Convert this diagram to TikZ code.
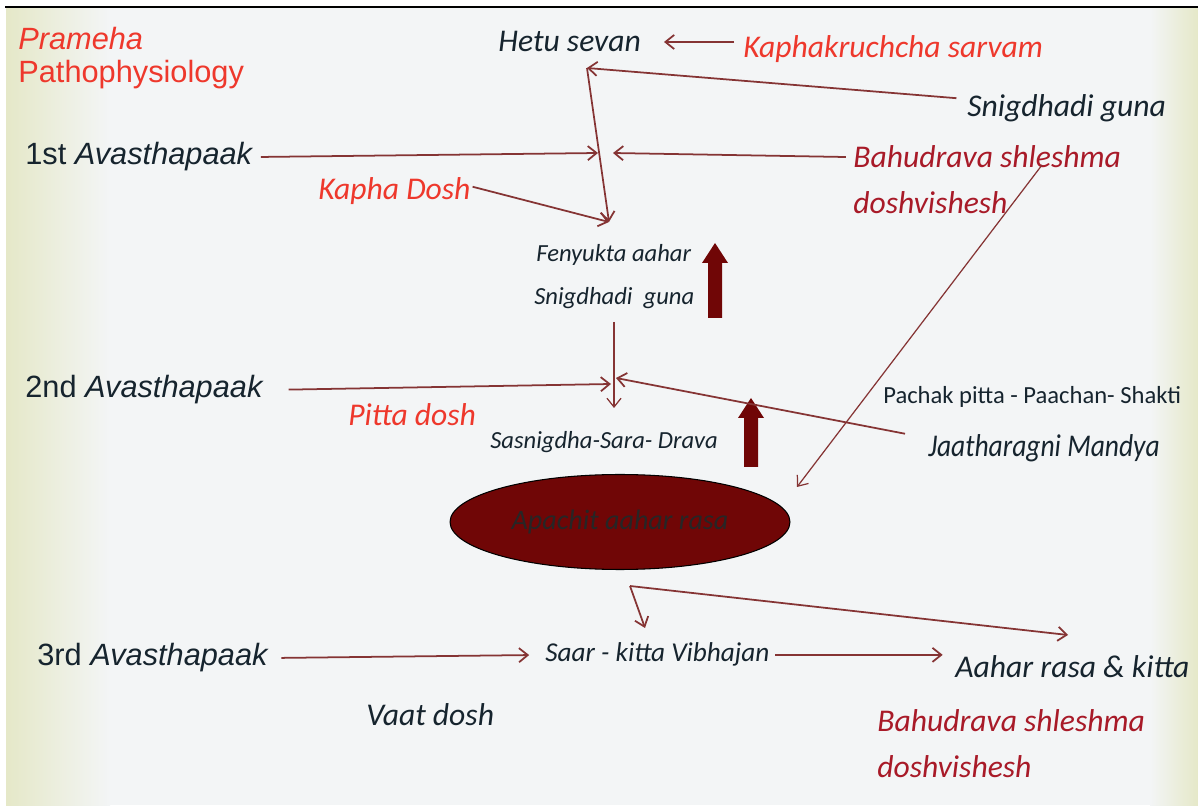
\documentclass[tikz,border=0pt]{standalone}
\usepackage{fontspec}
\setmainfont{Carlito}
\newfontfamily\pmsans{Liberation Sans}
\usetikzlibrary{arrows.meta,shapes.geometric}
\definecolor{pmred}{RGB}{238,56,44}
\definecolor{pmwine}{RGB}{168,26,40}
\definecolor{pmink}{RGB}{22,36,46}
\definecolor{pmline}{RGB}{133,52,52}
\definecolor{pmblood}{RGB}{112,6,6}
\definecolor{pmpaper}{RGB}{243,245,246}
\definecolor{pmcream}{RGB}{229,232,200}

\tikzset{
  conn/.style={pmline, line width=1pt, -{Straight Barb[length=5pt,width=8pt]}},
  thinconn/.style={conn, line width=0.7pt},
  pmbig/.style={anchor=base west, inner sep=0pt, text=pmink,
    font=\itshape\fontsize{18}{20}\selectfont},
  pmsmall/.style={pmbig, font=\itshape\fontsize{14}{16}\selectfont},
  pmstage/.style={anchor=base west, inner sep=0pt, text=pmink,
    font=\pmsans\fontsize{17.5}{19}\selectfont},
}

\begin{document}
\begin{tikzpicture}[x=0.02cm, y=-0.02cm]
    \useasboundingbox (0,0) rectangle (1198,807);
    \fill[pmpaper] (6,8) rectangle (1198,805);
    \shade[left color=pmcream, right color=pmpaper] (6,8) rectangle (110,805);
    \shade[left color=pmpaper, right color=pmcream] (1150,8) rectangle (1198,805);
    \draw[black, line width=1.2pt] (5,7) -- (1198,7);

    \node[pmstage, text=pmred, font=\pmsans\itshape\fontsize{17.5}{19}\selectfont] (title1) at (18,50) {Prameha};
    \node[pmstage, text=pmred] (title2) at (18,83) {Pathophysiology};

    \node[pmbig] (hetu) at (498,52) {Hetu sevan};
    \node[pmbig, text=pmred] (kaph) at (743,58) {Kaphakruchcha sarvam};
    \node[pmbig] (sguna) at (967,117) {Snigdhadi guna};
    \node[pmstage] (av1) at (25,165) {1st \textit{Avasthapaak}};
    \node[pmbig, text=pmwine] (bahu1) at (853,168) {Bahudrava shleshma};
    \node[pmbig, text=pmwine] (bahu1b) at (853,214) {doshvishesh};
    \node[pmbig, text=pmred] (kapha) at (318,200) {Kapha Dosh};
    \node[pmsmall] (fen1) at (536,262) {Fenyukta aahar};
    \node[pmsmall] (fen2) at (534,305) {Snigdhadi\ \ guna};
    \node[pmstage] (av2) at (25,398) {2nd \textit{Avasthapaak}};
    \node[pmbig, text=pmred] (pitta) at (348,426) {Pitta dosh};
    \node[pmsmall] (sas) at (490,449) {Sasnigdha-Sara- Drava};
    \node[pmsmall, font=\fontsize{14}{16}\selectfont] (pachak) at (883,404) {Pachak pitta - Paachan- Shakti};
    \node[pmbig, xscale=0.87] (jaath) at (928,457) {Jaatharagni Mandya};
    \node[ellipse, draw=black, line width=0.6pt, fill=pmblood, minimum width=6.8cm,
      minimum height=1.9cm, inner sep=0pt, text=black!85,
      font=\itshape\fontsize{16}{18}\selectfont] (rasa) at (620,522) {Apachit aahar rasa};
    \node[pmstage] (av3) at (37,666) {3rd \textit{Avasthapaak}};
    \node[pmsmall, font=\itshape\fontsize{15.5}{17}\selectfont] (saar) at (545,662) {Saar - kitta Vibhajan};
    \node[pmbig] (aahar) at (955,678) {Aahar rasa \& kitta};
    \node[pmbig] (vaat) at (366,725) {Vaat dosh};
    \node[pmbig, text=pmwine] (bahu2) at (877,731) {Bahudrava shleshma};
    \node[pmbig, text=pmwine] (bahu2b) at (877,778) {doshvishesh};

    \fill[pmblood] (708,318) -- (708,263) -- (702,263) -- (715,243) -- (728,263)
      -- (722,263) -- (722,318) -- cycle;
    \fill[pmblood] (744,467) -- (744,418) -- (738,418) -- (751,398) -- (764,418)
      -- (758,418) -- (758,467) -- cycle;

    \coordinate (jtop) at (587,68);
    \coordinate (jfen) at (609,222);
    \coordinate (j1l) at (598,153);
    \coordinate (j1r) at (613,153);
    \coordinate (bahus) at (1042,165);
    \coordinate (j2top) at (614,322);
    \coordinate (j2bot) at (614,408);
    \coordinate (j2l) at (611,384);
    \coordinate (j2r) at (616,378);
    \coordinate (rasane) at (797,487);
    \coordinate (jsplit) at (630,586);
    \coordinate (jsaar) at (645,628);
    \coordinate (jaahar) at (1068,635);

    \draw[conn, shorten <=5pt, shorten >=13pt] (kaph.west |- hetu.east) -- (hetu.east);
    \draw[conn] ([xshift=-6pt, yshift=-2pt]sguna.north west) -- (jtop);
    \draw[conn] (jtop) -- (jfen);
    \draw[conn, shorten <=4pt] (av1.east) -- (j1l);
    \draw[conn, shorten <=4pt] (bahu1.west) -- (j1r);
    \draw[conn, shorten <=1pt] ([yshift=3pt]kapha.east) -- (jfen);
    \draw[thinconn] (bahus) -- (rasane);
    \draw[thinconn] (j2top) -- (j2bot);
    \draw[conn, shorten <=14pt] (av2.east) -- (j2l);
    \draw[conn] ([shift={(-23,-15)}]jaath.west) -- (j2r);
    \draw[conn] (jsplit) -- (jsaar);
    \draw[conn] (jsplit) -- (jaahar);
    \draw[conn, shorten <=7pt, shorten >=9pt] (av3.east) -- (saar.west);
    \draw[conn, shorten <=3pt, shorten >=7pt] (saar.east) -- (aahar.west |- saar.east);
  \end{tikzpicture}
\end{document}
